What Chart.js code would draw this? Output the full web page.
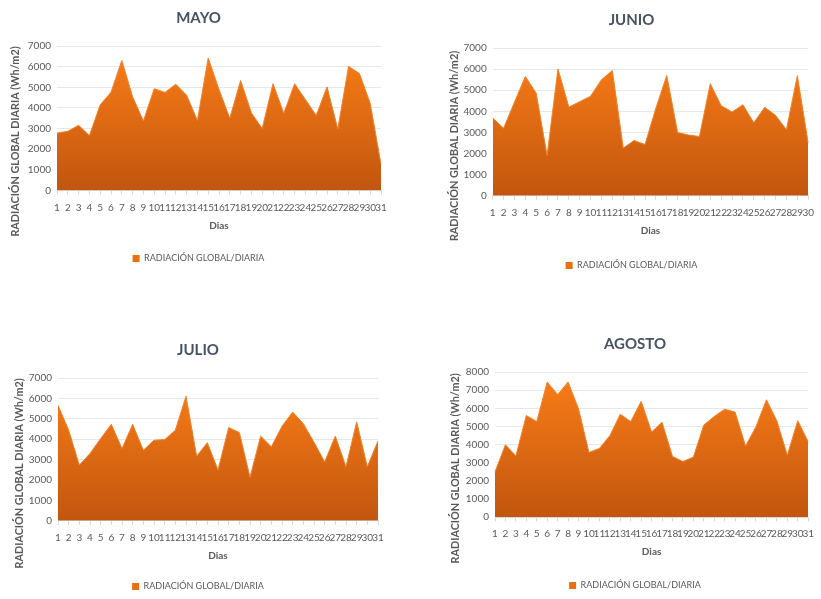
<!DOCTYPE html>
<html>
<head>
<meta charset="utf-8">
<script src="https://cdn.jsdelivr.net/npm/chart.js@4"></script>
<style>
  body { margin: 0; background: #fff; width: 821px; height: 599px; overflow: hidden; position: relative; }
  canvas { position: absolute; }
</style>
</head>
<body>
<canvas id="mayo" width="410" height="273" style="left:0;top:0"></canvas>
<canvas id="junio" width="401" height="280" style="left:420px;top:0"></canvas>
<canvas id="julio" width="410" height="301" style="left:0;top:300px"></canvas>
<canvas id="agosto" width="401" height="300" style="left:420px;top:300px"></canvas>
<script>
const dias31 = ['1','2','3','4','5','6','7','8','9','10','11','12','13','14','15','16','17','18','19','20','21','22','23','24','25','26','27','28','29','30','31'];
const dias30 = ['1','2','3','4','5','6','7','8','9','10','11','12','13','14','15','16','17','18','19','20','21','22','23','24','25','26','27','28','29','30'];

const mayo = [2780, 2870, 3160, 2660, 4150, 4760, 6300, 4540, 3370, 4930, 4750, 5150, 4620, 3390, 6420, 4890,
  3500, 5330, 3760, 3000, 5170, 3740, 5170, 4410, 3630, 5020, 2980, 6010, 5670, 4230, 1280];
const junio = [3690, 3200, 4430, 5650, 4860, 1910, 6010, 4200, 4460, 4720, 5500, 5930, 2260, 2620, 2430, 4150,
  5700, 3000, 2880, 2810, 5310, 4270, 3970, 4310, 3460, 4190, 3810, 3130, 5690, 2500];
const julio = [5660, 4440, 2730, 3300, 4030, 4730, 3540, 4730, 3460, 3950, 3980, 4440, 6100, 3170, 3830, 2490,
  4570, 4330, 2140, 4150, 3630, 4630, 5330, 4760, 3850, 2890, 4150, 2650, 4850, 2650, 3920];
const agosto = [2500, 3990, 3380, 5600, 5270, 7450, 6750, 7450, 5970, 3570, 3790, 4490, 5670, 5270, 6380, 4690,
  5230, 3350, 3070, 3310, 5080, 5550, 5950, 5790, 3920, 4990, 6470, 5300, 3420, 5320, 4160];

const serie = 'RADIACIÓN GLOBAL/DIARIA';
const yTitulo = 'RADIACIÓN GLOBAL DIARIA (Wh/m2)';
const xTitulo = 'Dias';

const gris = '#595959';
const fuente = 'Lato, "Open Sans", sans-serif';

// rotated y title drawn where Excel puts it (centred on plot + axis, not plot only)
const yTitlePlugin = {
  id: 'yTitle',
  afterDraw(chart, args, opts) {
    const ctx = chart.ctx;
    ctx.save();
    ctx.translate(opts.x, opts.y);
    ctx.rotate(-Math.PI / 2);
    ctx.font = 'bold 10.8px ' + fuente;
    ctx.fillStyle = gris;
    ctx.textAlign = 'center';
    ctx.textBaseline = 'middle';
    ctx.fillText(yTitulo, 0, 0);
    ctx.restore();
  }
};

function gradiente(context) {
  const chart = context.chart;
  const area = chart.chartArea;
  if (!area) return '#E8700F';
  const g = chart.ctx.createLinearGradient(0, area.top, 0, area.bottom);
  g.addColorStop(0, '#FB7E17');
  g.addColorStop(1, '#C2560F');
  return g;
}

function buildChart(id, titulo, labels, values, yMax, lay) {
  const ctx = document.getElementById(id).getContext('2d');
  return new Chart(ctx, {
    type: 'line',
    data: {
      labels: labels,
      datasets: [{
        label: serie,
        data: values,
        fill: 'origin',
        backgroundColor: gradiente,
        borderColor: '#F3822A',
        borderWidth: 1,
        pointRadius: 0,
        tension: 0
      }]
    },
    plugins: [yTitlePlugin],
    options: {
      responsive: false,
      animation: false,
      layout: { padding: { left: lay.padL, right: lay.padR, top: 0, bottom: 0 } },
      plugins: {
        title: {
          display: true,
          text: titulo,
          color: '#465362',
          font: { family: fuente, size: 15, weight: 'bold' },
          padding: { top: lay.titleTop, bottom: lay.titleBottom }
        },
        legend: {
          position: 'bottom',
          labels: {
            color: gris,
            font: { family: fuente, size: 9 },
            boxWidth: 7,
            boxHeight: 7,
            padding: lay.legendPad,
            generateLabels: function () {
              return [{ text: serie, fillStyle: '#E8700F', strokeStyle: '#E8700F', lineWidth: 0, fontColor: gris }];
            }
          }
        },
        tooltip: { enabled: false },
        yTitle: { x: lay.yTitleX, y: lay.yTitleY }
      },
      scales: {
        x: {
          offset: false,
          grid: { drawOnChartArea: false, drawTicks: true, tickLength: 4, color: '#D9D9D9' },
          border: { color: '#D9D9D9' },
          ticks: { color: gris, font: { family: fuente, size: 10 }, padding: 7, autoSkip: false, maxRotation: 0 },
          title: { display: true, text: xTitulo, color: gris, font: { family: fuente, size: 10, weight: 'bold' }, padding: { top: 6, bottom: 4 } },
          afterFit: function (scale) { scale.height = 45; }
        },
        y: {
          min: 0,
          max: yMax,
          grid: { color: '#E4E7EC', drawTicks: false },
          border: { display: false },
          ticks: {
            stepSize: 1000,
            color: gris,
            font: { family: fuente, size: 10 },
            padding: 6,
            callback: function (value) { return String(value); }
          },
          afterFit: function (scale) { scale.width = lay.yWidth; }
        }
      }
    }
  });
}

buildChart('mayo', 'MAYO', dias31, mayo, 7000,
  { padL: 16, padR: 29, yWidth: 41, titleTop: 9, titleBottom: 19, legendPad: 18.5, yTitleX: 16, yTitleY: 141.5 });
buildChart('junio', 'JUNIO', dias30, junio, 7000,
  { padL: 32.3, padR: 10.3, yWidth: 40.4, titleTop: 11, titleBottom: 19, legendPad: 20.2, yTitleX: 35, yTitleY: 146 });
buildChart('julio', 'JULIO', dias31, julio, 7000,
  { padL: 18, padR: 32, yWidth: 40, titleTop: 41, titleBottom: 19, legendPad: 16.2, yTitleX: 19.3, yTitleY: 173.3 });
buildChart('agosto', 'AGOSTO', dias31, agosto, 8000,
  { padL: 34.7, padR: 5.7, yWidth: 40.3, titleTop: 35, titleBottom: 19, legendPad: 18.8, yTitleX: 36, yTitleY: 168.3 });
</script>
</body>
</html>
